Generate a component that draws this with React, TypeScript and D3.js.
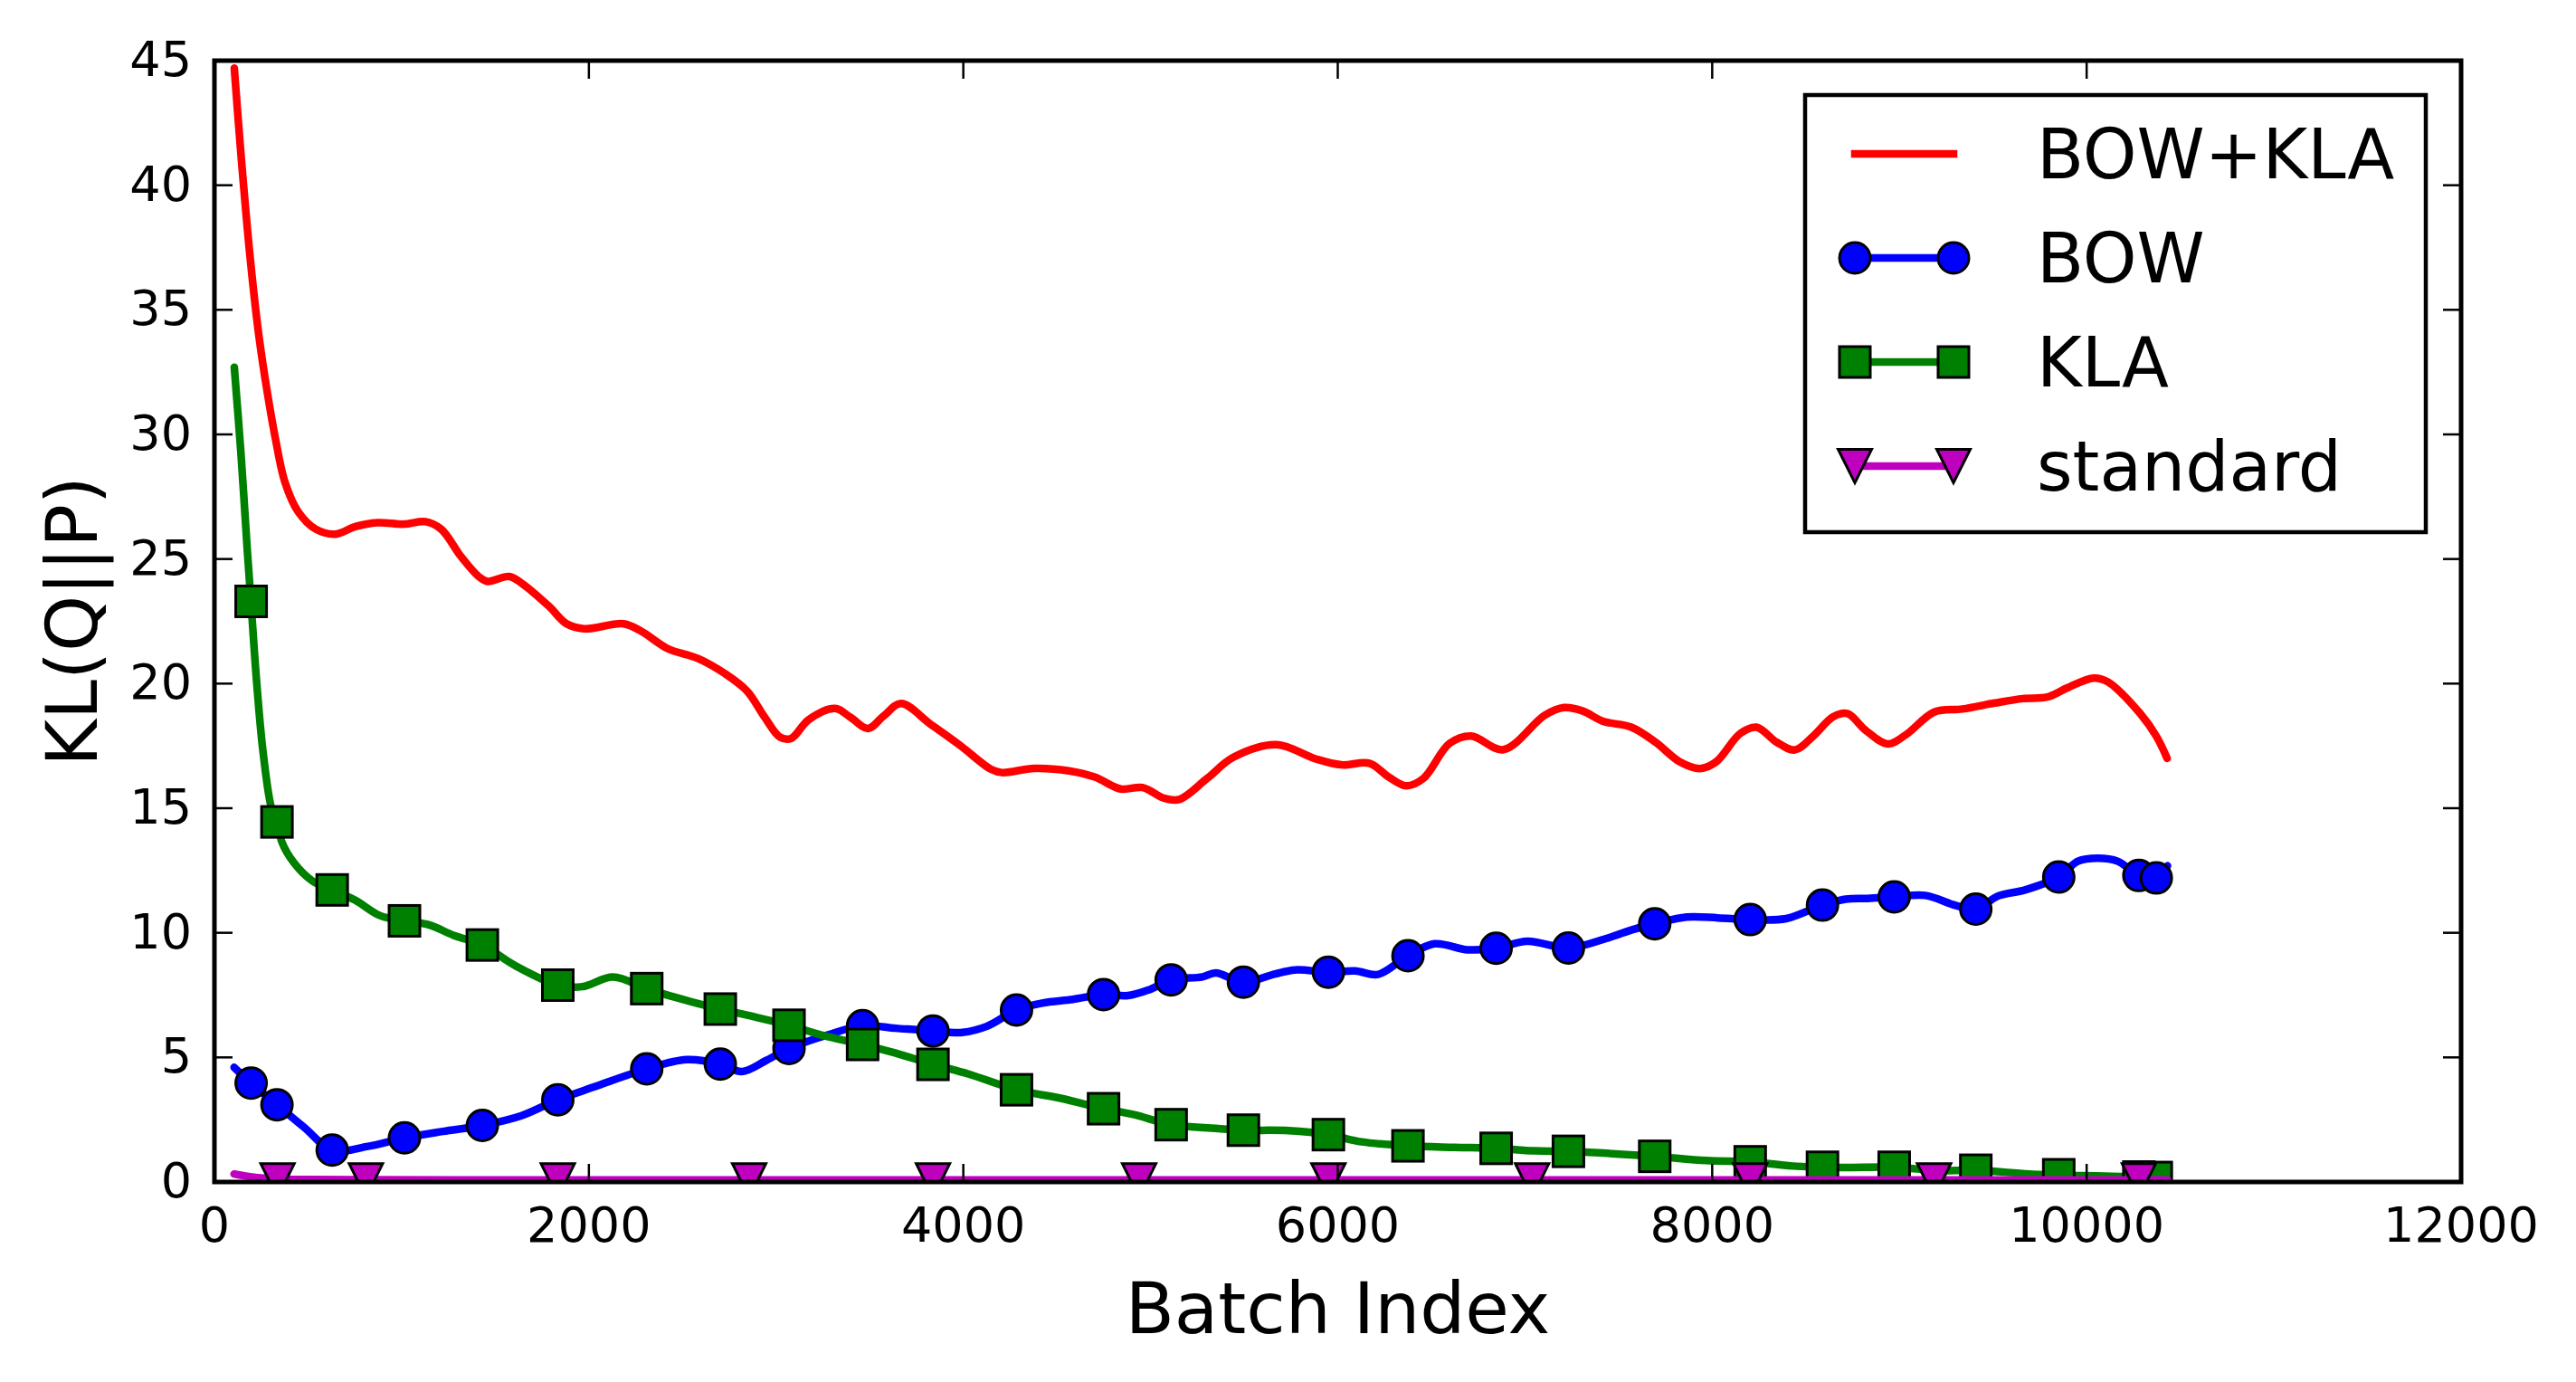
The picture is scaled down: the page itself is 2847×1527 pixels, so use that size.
import { curveCatmullRom, line, scaleLinear } from 'd3'

type Pt = [number, number]
type MarkerKind = 'none' | 'circle' | 'square' | 'triangle'

// ---- data ----
const xTicks = [0, 2000, 4000, 6000, 8000, 10000, 12000]
const yTicks = [0, 5, 10, 15, 20, 25, 30, 35, 40, 45]

const bowKlaX = [
  106, 141, 188, 235, 282, 329, 376, 447, 541, 647, 752, 870, 1011, 1128, 1211, 1317, 1411, 1458, 1575, 1646,
  1787, 1881, 1975, 2186, 2280, 2422, 2586, 2727, 2845, 2939, 3021, 3080, 3174, 3315, 3397, 3491, 3574, 3667,
  3825, 3986, 4148, 4206, 4379, 4564, 4702, 4841, 4957, 5072, 5153, 5303, 5442, 5673, 5881, 6019, 6169, 6273,
  6366, 6458, 6597, 6712, 6885, 7105, 7209, 7309, 7417, 7568, 7697, 7827, 7935, 8021, 8150, 8237, 8344, 8441,
  8539, 8646, 8722, 8819, 8938, 9035, 9186, 9337, 9509, 9660, 9790, 9897, 10038, 10113, 10286, 10372, 10430,
]
const bowKlaY = [
  44.7, 41.3, 37.3, 34.1, 31.7, 29.7, 28.1, 26.9, 26.2, 26.0, 26.3, 26.46, 26.4, 26.5, 26.2, 25.1, 24.3, 24.1, 24.3, 24.0,
  23.1, 22.4, 22.2, 22.4, 22.1, 21.4, 21.0, 20.4, 19.7, 18.65, 17.85, 17.8, 18.55, 19.0, 18.65, 18.2, 18.7, 19.2,
  18.37, 17.5, 16.56, 16.43, 16.6, 16.5, 16.25, 15.77, 15.83, 15.4, 15.35, 16.2, 17.04, 17.55, 16.98, 16.74, 16.8, 16.25,
  15.9, 16.2, 17.6, 17.9, 17.35, 18.73, 19.04, 18.9, 18.49, 18.25, 17.65, 16.86, 16.59, 16.86, 18.0, 18.25, 17.65, 17.34,
  17.89, 18.67, 18.8, 18.13, 17.58, 17.95, 18.86, 18.98, 19.22, 19.4, 19.46, 19.83, 20.22, 20.07, 18.8, 17.89, 17.0,
]

const bowX = [
  105, 196, 334, 480, 629, 820, 1015, 1220, 1431, 1640, 1834, 2030, 2309, 2522, 2702, 2817, 2948, 3069, 3275, 3462,
  3640, 3838, 3995, 4127, 4284, 4421, 4585, 4749, 4880, 4994, 5110, 5277, 5348, 5496, 5666, 5773, 5950, 6092, 6216,
  6375, 6517, 6694, 6846, 7013, 7232, 7438, 7580, 7693, 7863, 8030, 8203, 8395, 8589, 8713, 8830, 8972, 9139, 9300,
  9408, 9528, 9670, 9851, 9953, 10060, 10166, 10279, 10372, 10432,
]
const bowY = [
  4.6, 3.97, 3.1, 2.19, 1.28, 1.43, 1.77, 2.03, 2.27, 2.66, 3.3, 3.82, 4.54, 4.91, 4.73, 4.43, 4.88, 5.36, 5.9, 6.27,
  6.17, 6.06, 6.0, 6.25, 6.9, 7.18, 7.33, 7.52, 7.48, 7.72, 8.11, 8.23, 8.39, 8.02, 8.35, 8.51, 8.42, 8.47, 8.33,
  9.08, 9.56, 9.32, 9.38, 9.66, 9.39, 9.78, 10.14, 10.36, 10.63, 10.6, 10.53, 10.57, 11.11, 11.35, 11.38, 11.44, 11.5, 11.1,
  10.95, 11.48, 11.72, 12.24, 12.87, 12.99, 12.87, 12.3, 12.2, 12.69,
]

const klaX = [
  106, 141, 176, 195, 223, 259, 306, 337, 360, 426, 524, 629, 753, 884, 1018, 1146, 1277, 1431, 1605, 1834,
  1965, 2129, 2309, 2456, 2702, 2882, 3069, 3242, 3462, 3635, 3838, 4028, 4284, 4520, 4749, 4913, 5110, 5348,
  5496, 5737, 5950, 6127, 6375, 6623, 6846, 7048, 7232, 7438, 7693, 7969, 8203, 8430, 8678, 8972, 9209, 9408,
  9741, 10095, 10279, 10432,
]
const klaY = [
  32.7, 29.3, 25.3, 23.3, 20.3, 17.3, 14.96, 14.45, 13.65, 12.8, 12.08, 11.72, 11.3, 10.69, 10.48, 10.32, 9.9, 9.51, 8.69, 7.9,
  7.84, 8.23, 7.76, 7.42, 6.94, 6.63, 6.29, 5.9, 5.52, 5.18, 4.72, 4.33, 3.7, 3.36, 2.94, 2.7, 2.3, 2.15,
  2.08, 2.06, 1.9, 1.61, 1.45, 1.39, 1.35, 1.25, 1.23, 1.15, 1.03, 0.86, 0.81, 0.64, 0.58, 0.59, 0.46, 0.47,
  0.3, 0.24, 0.2, 0.19,
]

const standardX = [105, 200, 335, 500, 800, 1500, 3000, 5000, 7000, 9000, 10432]
const standardY = [0.32, 0.2, 0.12, 0.1, 0.09, 0.08, 0.08, 0.08, 0.08, 0.08, 0.08]

// BOW and KLA share marker batches
const markerBatches = [
  196, 334, 629, 1015, 1431, 1834, 2309, 2702, 3069, 3462, 3838, 4284, 4749, 5110, 5496, 5950, 6375, 6846, 7232,
  7693, 8203, 8589, 8972, 9408, 9851, 10279, 10372,
]
const bowMarkY = [
  3.97, 3.1, 1.28, 1.77, 2.27, 3.3, 4.54, 4.73, 5.36, 6.27, 6.06, 6.9, 7.52, 8.11, 8.02, 8.42, 9.08, 9.38, 9.39,
  10.36, 10.53, 11.11, 11.44, 10.95, 12.24, 12.3, 12.2,
]
const klaMarkY = [
  23.3, 14.45, 11.72, 10.48, 9.51, 7.9, 7.76, 6.94, 6.29, 5.52, 4.72, 3.7, 2.94, 2.3, 2.08, 1.9, 1.45, 1.35, 1.23,
  1.03, 0.81, 0.59, 0.59, 0.47, 0.29, 0.2, 0.18,
]
const standardMarkX = [337, 809, 1834, 2856, 3838, 4939, 5950, 7038, 8203, 9185, 10279]
const standardMarkY = [0.06, 0.06, 0.06, 0.06, 0.06, 0.06, 0.06, 0.06, 0.06, 0.06, 0.06]

const seriesNames = ['BOW+KLA', 'BOW', 'KLA', 'standard']
const seriesColors = ['#ff0000', '#0000ff', '#008000', '#bf00bf']

// ---- layout ----
const WIDTH = 2847
const HEIGHT = 1527
const PLOT = { left: 237, right: 2720, top: 67, bottom: 1306 }
const FONT = '"DejaVu Sans", Verdana, sans-serif'
const LINE_W = 8.5
const MARK = 17

function zip(xs: number[], ys: number[]): Pt[] {
  return xs.map((v, i) => [v, ys[i]])
}

function Marker({ kind, cx, cy, fill }: { kind: MarkerKind; cx: number; cy: number; fill: string }) {
  const common = { fill, stroke: '#000', strokeWidth: 3 }
  if (kind === 'circle') return <circle cx={cx} cy={cy} r={MARK} {...common} />
  if (kind === 'square') return <rect x={cx - MARK} y={cy - MARK} width={MARK * 2} height={MARK * 2} {...common} />
  if (kind === 'triangle') {
    const h = MARK + 1.5
    return <path d={`M${cx - h},${cy - h}L${cx + h},${cy - h}L${cx},${cy + h}Z`} {...common} strokeLinejoin="miter" />
  }
  return null
}

export default function App() {
  const x = scaleLinear().domain([0, 12000]).range([PLOT.left, PLOT.right])
  const y = scaleLinear().domain([0, 45]).range([PLOT.bottom, PLOT.top])
  const path = line<Pt>()
    .x((d) => x(d[0]))
    .y((d) => y(d[1]))
    .curve(curveCatmullRom.alpha(0.5))

  const series = [
    { line: zip(bowKlaX, bowKlaY), marks: [] as Pt[], kind: 'none' as MarkerKind },
    { line: zip(bowX, bowY), marks: zip(markerBatches, bowMarkY), kind: 'circle' as MarkerKind },
    { line: zip(klaX, klaY), marks: zip(markerBatches, klaMarkY), kind: 'square' as MarkerKind },
    { line: zip(standardX, standardY), marks: zip(standardMarkX, standardMarkY), kind: 'triangle' as MarkerKind },
  ]

  const tickLen = 20
  const legend = { left: 1995, top: 105, right: 2681, bottom: 588 }
  const legendRowY = [170, 285, 400, 515]

  return (
    <svg
      width={WIDTH}
      height={HEIGHT}
      viewBox={`0 0 ${WIDTH} ${HEIGHT}`}
      style={{ position: 'absolute', left: 0, top: 0, background: '#fff' }}
      fontFamily={FONT}
    >
      <defs>
        <clipPath id="plot-clip">
          <rect x={PLOT.left} y={PLOT.top} width={PLOT.right - PLOT.left} height={PLOT.bottom - PLOT.top} />
        </clipPath>
      </defs>
      <rect x={0} y={0} width={WIDTH} height={HEIGHT} fill="#fff" />

      <g clipPath="url(#plot-clip)">
        {series.map((s, i) => (
          <g key={seriesNames[i]}>
            <path
              d={path(s.line) ?? ''}
              fill="none"
              stroke={seriesColors[i]}
              strokeWidth={LINE_W}
              strokeLinecap="round"
              strokeLinejoin="round"
            />
            {s.marks.map((m, j) => (
              <Marker key={j} kind={s.kind} cx={x(m[0])} cy={y(m[1])} fill={seriesColors[i]} />
            ))}
          </g>
        ))}
      </g>

      {/* ticks, inside on all four sides */}
      <g stroke="#000" strokeWidth={2.5}>
        {xTicks.map((t) => (
          <g key={`xt${t}`}>
            <line x1={x(t)} x2={x(t)} y1={PLOT.bottom} y2={PLOT.bottom - tickLen} />
            <line x1={x(t)} x2={x(t)} y1={PLOT.top} y2={PLOT.top + tickLen} />
          </g>
        ))}
        {yTicks.map((t) => (
          <g key={`yt${t}`}>
            <line x1={PLOT.left} x2={PLOT.left + tickLen} y1={y(t)} y2={y(t)} />
            <line x1={PLOT.right} x2={PLOT.right - tickLen} y1={y(t)} y2={y(t)} />
          </g>
        ))}
      </g>

      <rect
        x={PLOT.left}
        y={PLOT.top}
        width={PLOT.right - PLOT.left}
        height={PLOT.bottom - PLOT.top}
        fill="none"
        stroke="#000"
        strokeWidth={5}
      />

      <g fontSize={54} fill="#000">
        {xTicks.map((t) => (
          <text key={`xl${t}`} x={x(t)} y={1372} textAnchor="middle">
            {t}
          </text>
        ))}
        {yTicks.map((t) => (
          <text key={`yl${t}`} x={212} y={y(t) + 17} textAnchor="end">
            {t}
          </text>
        ))}
      </g>

      <text x={(PLOT.left + PLOT.right) / 2} y={1473} textAnchor="middle" fontSize={79}>
        Batch Index
      </text>
      <text transform={`translate(107, ${(PLOT.top + PLOT.bottom) / 2}) rotate(-90)`} textAnchor="middle" fontSize={79}>
        KL(Q||P)
      </text>

      {/* legend */}
      <rect
        x={legend.left}
        y={legend.top}
        width={legend.right - legend.left}
        height={legend.bottom - legend.top}
        fill="#fff"
        stroke="#000"
        strokeWidth={4.5}
      />
      {seriesNames.map((name, i) => {
        const ry = legendRowY[i]
        return (
          <g key={`lg${name}`}>
            <line x1={2050} x2={2159} y1={ry} y2={ry} stroke={seriesColors[i]} strokeWidth={LINE_W} strokeLinecap="square" />
            <Marker kind={series[i].kind} cx={2050} cy={ry} fill={seriesColors[i]} />
            <Marker kind={series[i].kind} cx={2159} cy={ry} fill={seriesColors[i]} />
            <text x={2251} y={ry + 27} fontSize={76}>
              {name}
            </text>
          </g>
        )
      })}
    </svg>
  )
}
